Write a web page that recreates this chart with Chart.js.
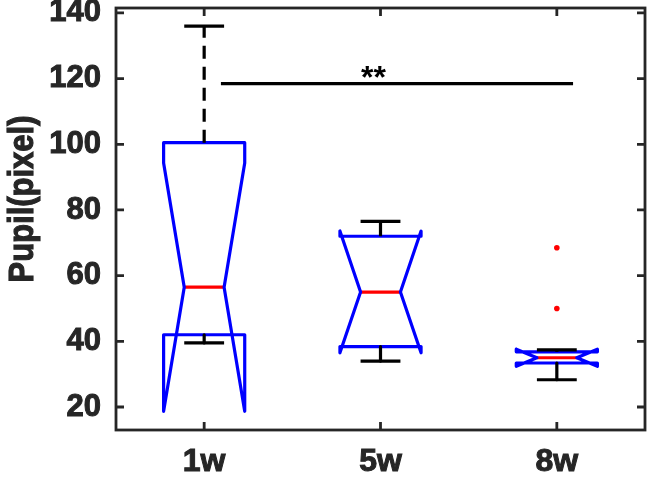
<!DOCTYPE html>
<html lang="en">
<head>
<meta charset="UTF-8" />
<title>Pupil boxplot</title>
<script src="https://cdn.jsdelivr.net/npm/chart.js"></script>
<style>
  html, body { margin: 0; padding: 0; background: #fff; }
  #wrap { width: 653px; height: 477px; }
</style>
</head>
<body>
<div id="wrap"><canvas id="boxChart"></canvas></div>
<script>
// data
const groups = ['1w', '5w', '8w'];
const whiskerLow = [39.5, 34, 28.3];
const q1 = [42, 38.4, 33.4];
const medians = [56.5, 55, 35];
const q3 = [100.5, 72, 36.8];
const whiskerHigh = [136, 76.5, 37.4];
const notchLow = [18.7, 36.5, 32.4];
const notchHigh = [94.3, 73.6, 37.6];
const outlierGroup = [3, 3];
const outlierValues = [68.5, 50];
const yTicks = [20, 40, 60, 80, 100, 120, 140];
const sigFrom = 1.095;
const sigTo = 3.092;
const sigLevel = 118.5;
const sigLabel = '**';

const AXIS = '#262626';
const FONT = "'Liberation Sans', Arial, sans-serif";
const BOX_HALF = 0.23;
const NOTCH_HALF = 0.113;
const CAP_HALF = 0.113;

function seg(points, color, extra) {
    return Object.assign({
        type: 'line',
        data: points,
        borderColor: color,
        borderWidth: 3.2,
        pointRadius: 0,
        fill: false,
        tension: 0,
        borderJoinStyle: 'round',
        borderCapStyle: 'butt'
    }, extra || {});
}

// long whiskers dashed like matlab, short stubs stay solid
const whiskerDash = {
    segment: {
        borderDash: ctx => Math.abs(ctx.p0.y - ctx.p1.y) > 25 ? [13, 8] : []
    }
};

const datasets = [];
groups.forEach((g, i) => {
    const c = i + 1;
    datasets.push(seg([{ x: c, y: q3[i] }, { x: c, y: whiskerHigh[i] }], '#000', whiskerDash));
    datasets.push(seg([{ x: c, y: q1[i] }, { x: c, y: whiskerLow[i] }], '#000', whiskerDash));
    datasets.push(seg([{ x: c - CAP_HALF, y: whiskerHigh[i] }, { x: c + CAP_HALF, y: whiskerHigh[i] }], '#000'));
    datasets.push(seg([{ x: c - CAP_HALF, y: whiskerLow[i] }, { x: c + CAP_HALF, y: whiskerLow[i] }], '#000'));
    const L = c - BOX_HALF, R = c + BOX_HALF;
    datasets.push(seg([
        { x: L, y: q1[i] }, { x: L, y: notchLow[i] }, { x: c - NOTCH_HALF, y: medians[i] },
        { x: L, y: notchHigh[i] }, { x: L, y: q3[i] }, { x: R, y: q3[i] },
        { x: R, y: notchHigh[i] }, { x: c + NOTCH_HALF, y: medians[i] }, { x: R, y: notchLow[i] },
        { x: R, y: q1[i] }, { x: L, y: q1[i] }
    ], '#0000ff'));
    datasets.push(seg([{ x: c - NOTCH_HALF, y: medians[i] }, { x: c + NOTCH_HALF, y: medians[i] }], '#ff0000'));
});
datasets.push({
    type: 'scatter',
    data: outlierValues.map((v, k) => ({ x: outlierGroup[k], y: v })),
    pointRadius: 2.8,
    pointBackgroundColor: '#ff0000',
    pointBorderWidth: 0
});
datasets.push(seg([{ x: sigFrom, y: sigLevel }, { x: sigTo, y: sigLevel }], '#000'));

const matlabFrame = {
    id: 'matlabFrame',
    afterDraw(chart) {
        const { ctx, chartArea: a, scales: { x, y } } = chart;
        ctx.save();
        ctx.strokeStyle = AXIS;
        ctx.lineWidth = 2.8;
        ctx.strokeRect(a.left, a.top, a.width, a.height);
        ctx.beginPath();
        yTicks.forEach(v => {
            const py = y.getPixelForValue(v);
            ctx.moveTo(a.left, py); ctx.lineTo(a.left + 8, py);
            ctx.moveTo(a.right, py); ctx.lineTo(a.right - 8, py);
        });
        groups.forEach((g, i) => {
            const px = x.getPixelForValue(i + 1);
            ctx.moveTo(px, a.bottom); ctx.lineTo(px, a.bottom - 8);
            ctx.moveTo(px, a.top); ctx.lineTo(px, a.top + 8);
        });
        ctx.stroke();

        // y axis title
        ctx.fillStyle = AXIS;
        ctx.strokeStyle = AXIS;
        ctx.lineWidth = 1;
        ctx.font = 'bold 31px ' + FONT;
        ctx.textAlign = 'center';
        ctx.textBaseline = 'middle';
        ctx.translate(23, 199);
        ctx.rotate(-Math.PI / 2);
        ctx.scale(1, 1.15);
        ctx.fillText('Pupil(pixel)', 0, 0);
        ctx.strokeText('Pupil(pixel)', 0, 0);
        ctx.restore();

        // significance stars
        ctx.save();
        ctx.fillStyle = '#000';
        ctx.font = 'bold 32px ' + FONT;
        ctx.textAlign = 'center';
        ctx.textBaseline = 'alphabetic';
        ctx.fillText(sigLabel, x.getPixelForValue(1.96), y.getPixelForValue(sigLevel) + 4);
        ctx.restore();
    }
};

new Chart(document.getElementById('boxChart'), {
    type: 'scatter',
    data: { datasets: datasets },
    options: {
        responsive: true,
        maintainAspectRatio: false,
        animation: false,
        layout: { padding: { top: 8, right: 8, left: 0, bottom: 0 } },
        plugins: { legend: { display: false }, tooltip: { enabled: false } },
        scales: {
            x: {
                type: 'linear',
                min: 0.5,
                max: 3.5,
                grid: { display: false, drawTicks: false },
                border: { display: false },
                afterBuildTicks: s => { s.ticks = groups.map((g, i) => ({ value: i + 1 })); },
                afterFit: s => { s.height = 47; s.paddingLeft = 0; s.paddingRight = 0; },
                ticks: {
                    autoSkip: false,
                    maxRotation: 0,
                    padding: 13,
                    color: AXIS,
                    textStrokeColor: AXIS,
                    textStrokeWidth: 1,
                    font: { family: FONT, size: 32, weight: 'bold' },
                    callback: v => groups[v - 1]
                }
            },
            y: {
                min: 13,
                max: 141.5,
                grid: { display: false, drawTicks: false },
                border: { display: false },
                afterBuildTicks: s => { s.ticks = yTicks.map(v => ({ value: v })); },
                afterFit: s => { s.width = 116; s.paddingTop = 0; s.paddingBottom = 0; },
                ticks: {
                    padding: 15,
                    color: AXIS,
                    textStrokeColor: AXIS,
                    textStrokeWidth: 1,
                    font: { family: FONT, size: 31, weight: 'bold' }
                }
            }
        }
    },
    plugins: [matlabFrame]
});
</script>
</body>
</html>
